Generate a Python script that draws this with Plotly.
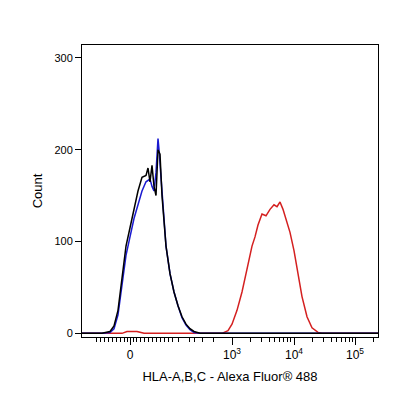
import numpy as np
import plotly.graph_objects as go

# display channel (biexponential scale) vs count
black_x = [0, 20, 28, 32, 36, 40, 44, 48, 52, 56, 60, 64, 66, 68, 70, 72, 74, 76, 78, 80, 84, 88, 92, 96, 100, 104, 108, 112, 118, 296]
black_y = [0, 0, 2, 8, 25, 60, 95, 115, 135, 155, 170, 172, 180, 165, 183, 160, 150, 200, 195, 150, 95, 65, 45, 30, 18, 10, 5, 2, 0, 0]
blue_x = [0, 20, 28, 32, 36, 40, 44, 48, 52, 56, 60, 64, 68, 70, 72, 74, 76, 77, 78, 80, 84, 88, 92, 96, 100, 104, 108, 112, 118, 296]
blue_y = [0, 0, 1, 5, 20, 55, 85, 105, 125, 140, 155, 165, 168, 160, 155, 175, 212, 200, 185, 145, 95, 65, 45, 30, 17, 9, 4, 1, 0, 0]
red_x = [0, 40, 45, 55, 62, 140, 146, 150, 155, 160, 165, 170, 173, 176, 180, 184, 188, 192, 195, 198, 201, 204, 208, 212, 216, 220, 225, 230, 236, 240, 296]
red_y = [0, 0, 2, 2, 0, 0, 3, 10, 25, 45, 70, 95, 105, 118, 130, 128, 135, 140, 138, 143, 135, 125, 110, 90, 65, 40, 18, 6, 1, 0, 0]

major_vals = [48, 150, 212, 273]
major_text = ["0", "10<sup>3</sup>", "10<sup>4</sup>", "10<sup>5</sup>"]
decade = 61.5
minor_vals = [p + decade * np.log10(k) for p in [150, 212] for k in range(2, 10)]
minor_vals += [273 + decade * np.log10(k) for k in range(2, 4)]
minor_vals += [14, 18, 22, 26, 30, 34, 38, 42, 45, 51, 54, 58, 62, 66, 70, 74, 78, 82, 86, 90, 96]
minor_vals += [150 - decade * np.log10(k) for k in range(2, 6)]

fig = go.Figure()
fig.add_trace(go.Scatter(x=red_x, y=red_y, mode="lines", line=dict(color="#d42020", width=1.5)))
fig.add_trace(go.Scatter(x=blue_x, y=blue_y, mode="lines", line=dict(color="#1a1ad0", width=1.5)))
fig.add_trace(go.Scatter(x=black_x, y=black_y, mode="lines", line=dict(color="black", width=1.5)))

fig.update_layout(
    width=400, height=400, showlegend=False,
    plot_bgcolor="white", paper_bgcolor="white",
    margin=dict(l=74, r=30, t=37, b=71),
    font=dict(family="Liberation Sans, Arial", size=11, color="black"),
    xaxis=dict(range=[0, 296], showgrid=False, zeroline=False, showline=True, mirror=True,
               linecolor="black", linewidth=1, tickmode="array", tickvals=major_vals,
               ticktext=major_text, ticks="outside", ticklen=7, tickcolor="black",
               tickfont=dict(size=12),
               minor=dict(tickmode="array", tickvals=minor_vals, ticks="outside", ticklen=4, tickcolor="black"),
               title=dict(text="HLA-A,B,C - Alexa Fluor® 488", standoff=10)),
    yaxis=dict(range=[-4, 314], showgrid=False, zeroline=False, showline=True, mirror=True,
               linecolor="black", linewidth=1, tickvals=[0, 100, 200, 300], ticks="outside",
               ticklen=6, tickcolor="black", title=dict(text="Count", standoff=8)),
)
fig.write_html("out.html")
